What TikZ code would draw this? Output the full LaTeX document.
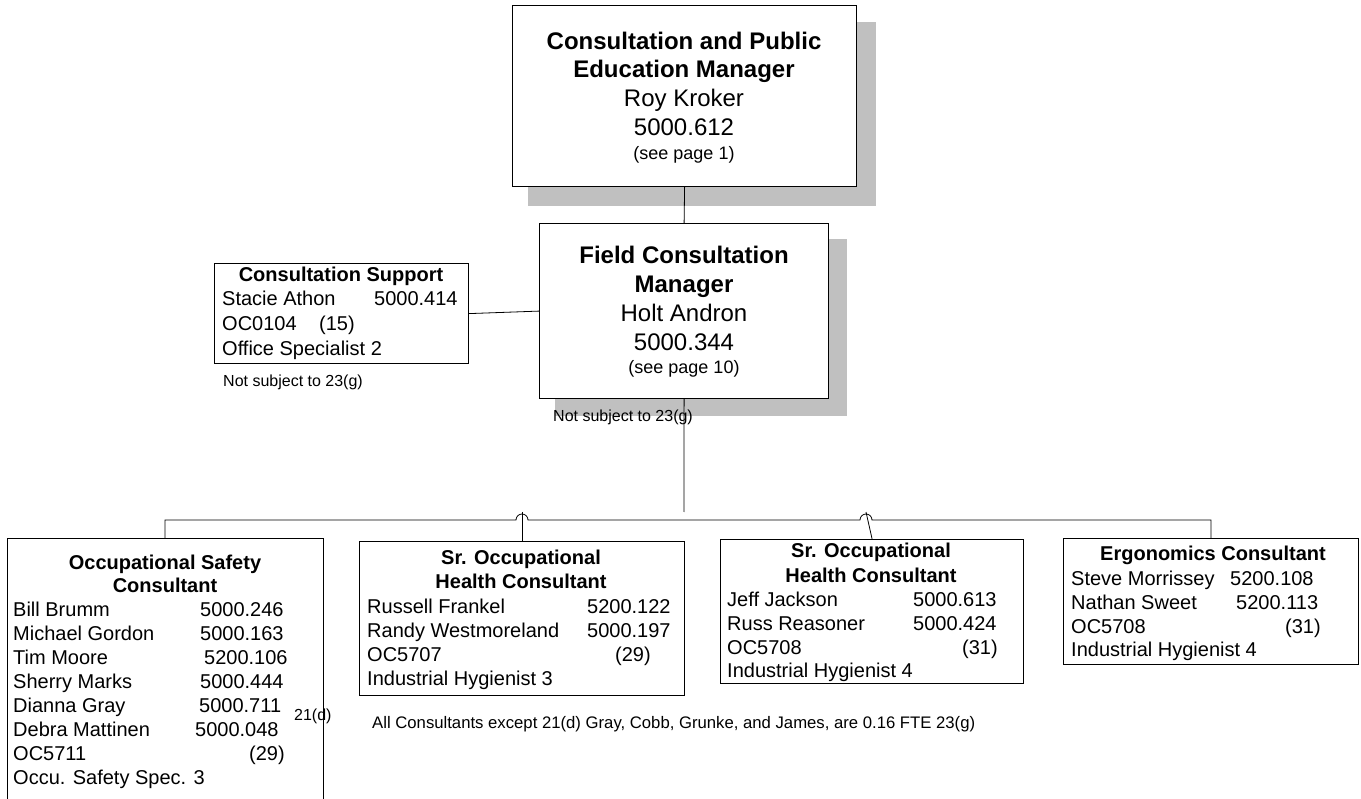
\documentclass[tikz,border=0pt]{standalone}
\usepackage{fontspec}
\setmainfont{Liberation Sans}
\usetikzlibrary{backgrounds}
\definecolor{shadowgray}{HTML}{C0C0C0}
\begin{document}
\begin{tikzpicture}[x=1pt,y=-1pt,
  box/.style={draw, line width=1.2pt, fill=white, inner sep=0, anchor=north west},
  link/.style={draw, line width=0.8pt},
  shade/.style={fill=shadowgray, draw=none},
  bigb/.style={inner sep=0, anchor=base, font=\fontsize{24}{28}\selectfont\bfseries},
  big/.style={inner sep=0, anchor=base, font=\fontsize{24}{28}\selectfont},
  mid/.style={inner sep=0, anchor=base, font=\fontsize{18}{22}\selectfont},
  headb/.style={inner sep=0, anchor=base, font=\fontsize{20}{24}\selectfont\bfseries},
  body/.style={inner sep=0, anchor=base west, font=\fontsize{20}{24}\selectfont},
  note/.style={inner sep=0, anchor=base west, font=\fontsize{16}{19}\selectfont}]
\useasboundingbox (0,0) rectangle (1361,799);

% boxes
\node[box, minimum width=344, minimum height=181] (top) at (512,5) {};
\node[box, minimum width=289, minimum height=175] (field) at (539,223) {};
\node[box, minimum width=254, minimum height=100] (support) at (214,263) {};
\node[box, minimum width=316, minimum height=272] (safety) at (7,538) {};
\node[box, minimum width=325, minimum height=154] (health1) at (359,541) {};
\node[box, minimum width=303, minimum height=144] (health2) at (720,539) {};
\node[box, minimum width=295, minimum height=126] (ergo) at (1063,538) {};

% drop shadows
\begin{scope}[on background layer]
  \fill[shade] ([shift={(16,17)}]top.north west) rectangle ([shift={(19,19)}]top.south east);
  \fill[shade] ([shift={(16,16)}]field.north west) rectangle ([shift={(18,17)}]field.south east);
\end{scope}

% connectors
\coordinate (trunk) at (684,512);
\coordinate (busL) at (165,520);
\coordinate (busR) at (1211,520);
\coordinate (hopA) at (522,512);
\coordinate (hopB) at (866,512);
\draw[link] (top.south) -- (field.north);
\draw[link] (support.east) -- (field.west);
\draw[link] (field.south) -- (trunk);
\draw[link] (busL |- safety.north) -- (busL) -- (516,520)
  arc[start angle=180, end angle=0, radius=6pt] -- (860,520)
  arc[start angle=180, end angle=0, radius=6pt] -- (busR) -- (busR |- ergo.north);
\draw[link] (hopA) -- (hopA |- health1.north);
\draw[link] (hopB) -- (health2.north);

% top manager
\node[bigb] (t1) at (684,50) {Consultation and Public};
\node[bigb] (t2) at (684,78) {Education Manager};
\node[big] (t3) at (684,107) {Roy Kroker};
\node[big] (t4) at (684,136) {5000.612};
\node[mid] (t5) at (684,160) {(see page 1)};

% field manager
\node[bigb] (f1) at (684,264) {Field Consultation};
\node[bigb] (f2) at (684,293) {Manager};
\node[big] (f3) at (684,322) {Holt Andron};
\node[big] (f4) at (684,351) {5000.344};
\node[mid] (f5) at (684,374) {(see page 10)};
\node[note] (fnote) at (553,422) {Not subject to 23(g)};

% consultation support
\node[headb] (s0) at (341,282) {Consultation Support};
\node[body] (s1) at (222,306) {Stacie Athon};
\node[body] (s1v) at (374,306) {5000.414};
\node[body] (s2) at (222,331) {OC0104};
\node[body] (s2v) at (319,331) {(15)};
\node[body] (s3) at (222,356) {Office Specialist 2};
\node[note] (snote) at (223,387) {Not subject to 23(g)};

% occupational safety consultants
\node[headb] (os0) at (165,569) {Occupational Safety};
\node[headb] (os00) at (165,592) {Consultant};
\foreach \nm/\num/\nx [count=\i] in {Bill Brumm/5000.246/200, Michael Gordon/5000.163/200,
    Tim Moore/5200.106/204, Sherry Marks/5000.444/200, Dianna Gray/5000.711/199,
    Debra Mattinen/5000.048/195, OC5711/{(29)}/249}
{
  \node[body] (osn\i) at (13,{616+24*(\i-1)}) {\nm};
  \node[body] (osv\i) at (\nx,{616+24*(\i-1)}) {\num};
}
\node[body] (os8) at (13,784) {Occu. Safety Spec. 3};
\node[note] (osd) at (294,720) {21(d)};

% senior occupational health (first)
\node[headb] (ha0) at (521,565) {Sr. Occupational};
\node[headb] (ha00) at (521,588) {Health Consultant};
\foreach \nm/\num/\nx [count=\i] in {Russell Frankel/5200.122/587,
    Randy Westmoreland/5000.197/587, OC5707/{(29)}/615}
{
  \node[body] (han\i) at (367,{613+24*(\i-1)}) {\nm};
  \node[body] (hav\i) at (\nx,{613+24*(\i-1)}) {\num};
}
\node[body] (ha4) at (367,685) {Industrial Hygienist 3};

% senior occupational health (second)
\node[headb] (hb0) at (871,557) {Sr. Occupational};
\node[headb] (hb00) at (871,582) {Health Consultant};
\foreach \nm/\num/\nx [count=\i] in {Jeff Jackson/5000.613/913,
    Russ Reasoner/5000.424/913, OC5708/{(31)}/962}
{
  \node[body] (hbn\i) at (727,{606+24*(\i-1)}) {\nm};
  \node[body] (hbv\i) at (\nx,{606+24*(\i-1)}) {\num};
}
\node[body] (hb4) at (727,677) {Industrial Hygienist 4};

% ergonomics
\node[headb] (er0) at (1213,561) {Ergonomics Consultant};
\foreach \nm/\num/\nx [count=\i] in {Steve Morrissey/5200.108/1230,
    Nathan Sweet/5200.113/1236, OC5708/{(31)}/1285}
{
  \node[body] (ern\i) at (1071,{585+24*(\i-1)}) {\nm};
  \node[body] (erv\i) at (\nx,{585+24*(\i-1)}) {\num};
}
\node[body] (er4) at (1071,656) {Industrial Hygienist 4};

% footnote
\node[note, font=\fontsize{16.7}{20}\selectfont] (foot) at (372,728) {All Consultants except 21(d) Gray, Cobb, Grunke, and James, are 0.16 FTE 23(g)};
\end{tikzpicture}
\end{document}
